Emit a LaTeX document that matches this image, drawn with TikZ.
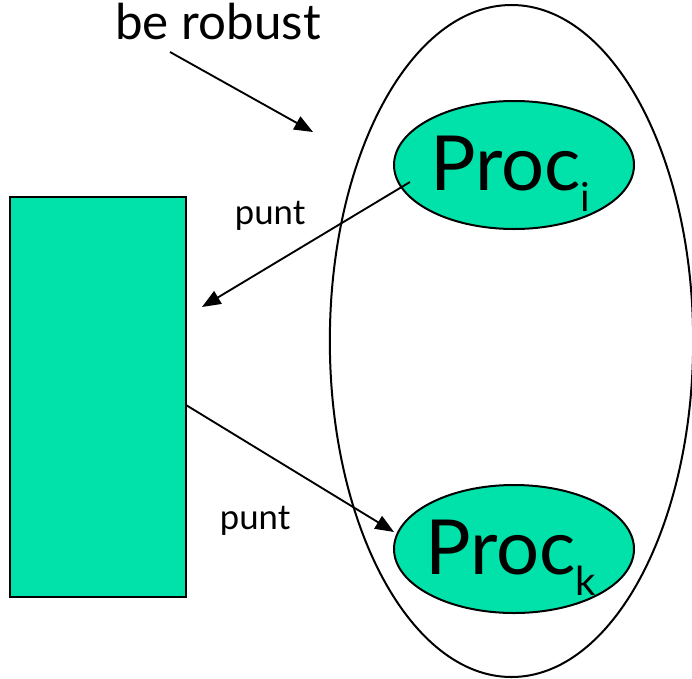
\documentclass[tikz,border=0pt]{standalone}
\usepackage{fontspec}
\setmainfont{Lato}
\usetikzlibrary{arrows.meta,shapes.geometric}
\definecolor{proc}{RGB}{0,226,170}
\newcommand{\lowsub}[1]{\raisebox{-16pt}{\fontsize{30}{32}\selectfont #1}}
\begin{document}
\begin{tikzpicture}[x=0.75pt,y=-0.75pt,
  every node/.style={inner sep=0pt},
  procnode/.style={ellipse,draw,line width=1.5pt,fill=proc,minimum width=180pt,minimum height=96pt},
  proctext/.style={font=\fontsize{57}{60}\selectfont,anchor=base west},
  arr/.style={line width=1.4pt,-{Triangle[length=14pt,width=11pt]}},
  lbl/.style={font=\fontsize{26}{28}\selectfont}]
\useasboundingbox (0,0) rectangle (692,678);
\node[ellipse,draw,line width=1.5pt,minimum width=272.5pt,minimum height=504pt] (grp) at (511.5,341) {};
\node[procnode] (pi) at (514,165) {};
\node[procnode] (pk) at (514,549) {};
\node[proctext] (ti) at (430,190) {Proc\lowsub{i}};
\node[proctext] (tk) at (425,574) {Proc\lowsub{k}};
\node[draw,line width=1.5pt,fill=proc,minimum width=132pt,minimum height=300pt] (box) at (98,397) {};
\node[font=\fontsize{37}{40}\selectfont] (rob) at (218,22) {be robust};
\node[lbl] (p1) at (270,216) {punt};
\node[lbl] (p2) at (255,521) {punt};
\coordinate (r1) at (170,52);
\coordinate (r2) at (313,132);
\coordinate (a1) at (410,182);
\coordinate (a2) at (202,307);
\coordinate (b1) at (186,405);
\coordinate (b2) at (394,532);
\draw[arr] (r1) -- (r2);
\draw[arr] (a1) -- (a2);
\draw[arr] (b1) -- (b2);
\end{tikzpicture}
\end{document}
